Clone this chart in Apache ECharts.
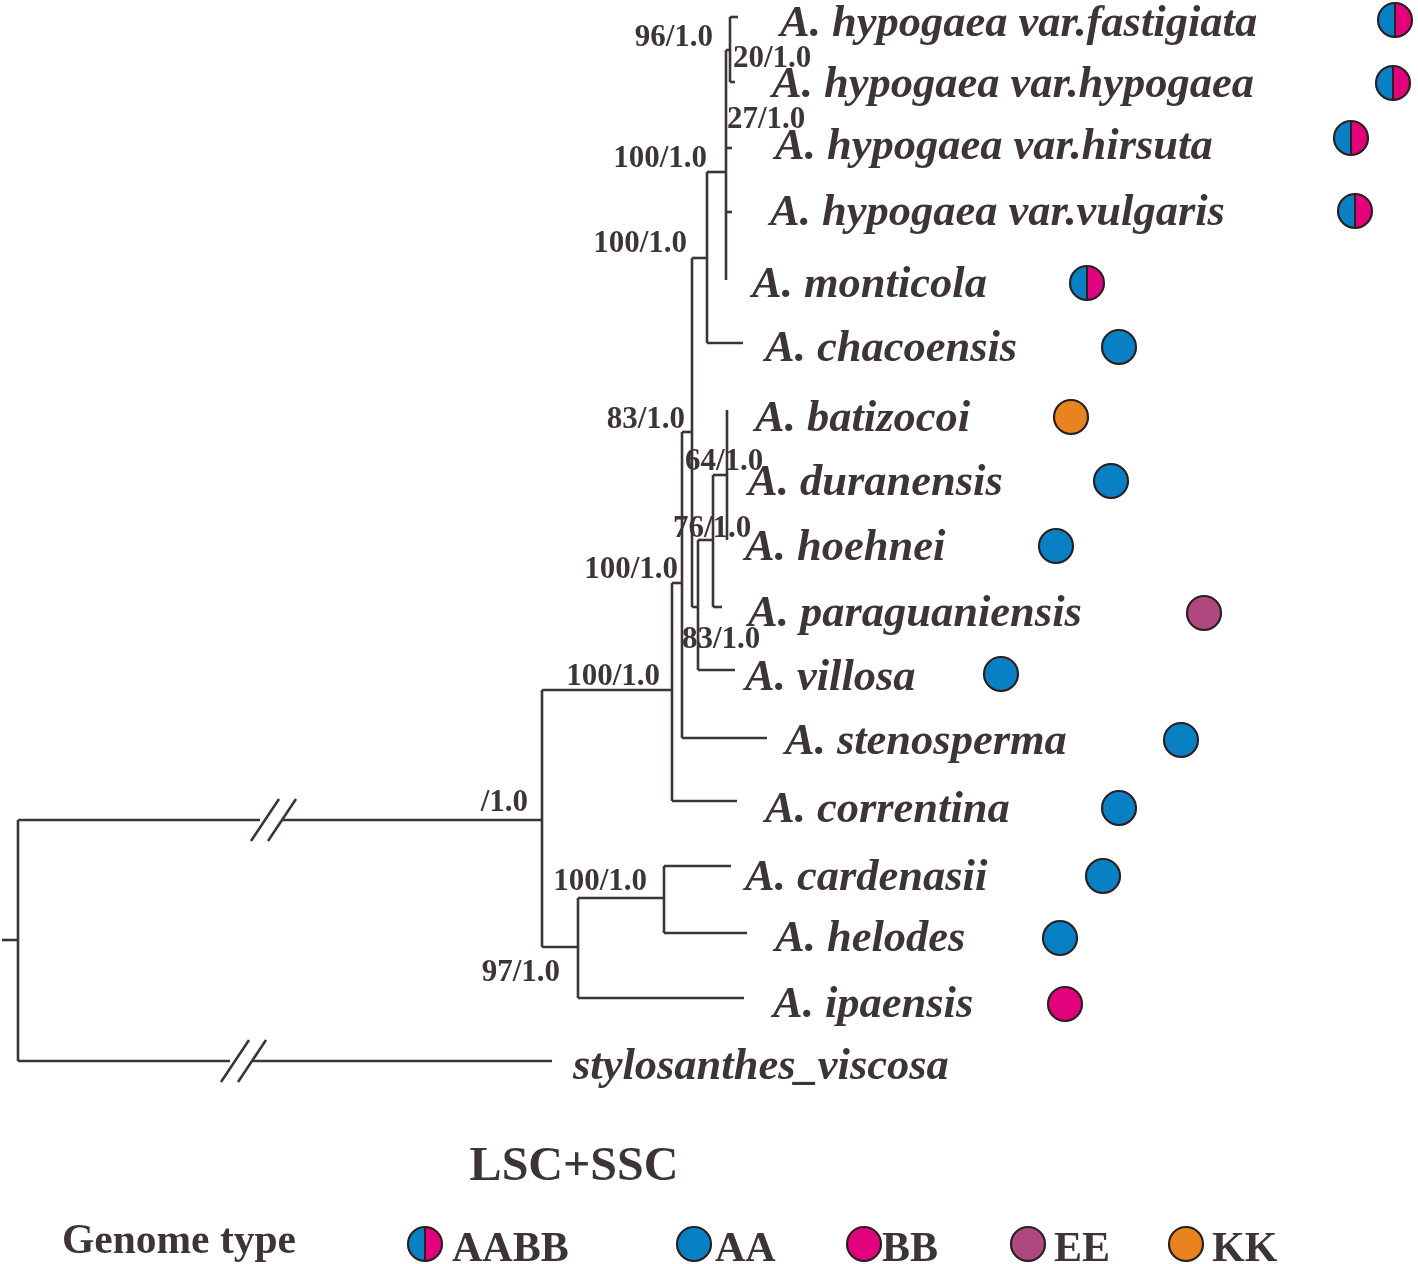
<!DOCTYPE html>
<html><head><meta charset="utf-8">
<script src="https://cdn.jsdelivr.net/npm/echarts@6/dist/echarts.min.js"></script>
<style>html,body{margin:0;padding:0;background:#fff}#c{width:1418px;height:1264px}</style>
</head><body><div id="c"></div>
<script>
// ---------------- DATA ----------------
// Tips (leaves) in drawing order
const taxa = ['A. hypogaea var.fastigiata','A. hypogaea var.hypogaea','A. hypogaea var.hirsuta','A. hypogaea var.vulgaris',
  'A. monticola','A. chacoensis','A. batizocoi','A. duranensis','A. hoehnei','A. paraguaniensis','A. villosa',
  'A. stenosperma','A. correntina','A. cardenasii','A. helodes','A. ipaensis','stylosanthes_viscosa'];
const genomeType = ['AABB','AABB','AABB','AABB','AABB','AA','KK','AA','AA','EE','AA','AA','AA','AA','AA','BB',''];
const tipParent = ['N9','N9','N8','N8','N8','N6','N10','N10','N10','N11','N7','N4','N2','N12','N12','N3','R'];
const tipDepth = [738,735,732,732,726,743,727,727,727,722,735,767,737,731,747,744,552];
const tipRow   = [17,82,148,212,280,343,410,478,540,607,670,738,801,866,933,998,1061];
const tipSupport = ['','20/1.0','27/1.0','','','','','','','','','','','','','',''];

// Internal nodes
const nodeName   = ['R','N1','N2','N4','N5','N6','N8','N9','N7','N11','N10','N3','N12'];
const nodeParent = [null,'R','N1','N2','N4','N5','N6','N8','N5','N7','N11','N1','N3'];
const nodeDepth  = [18,542,672,682,692,707,726,730,698,713,727,578,664];
const nodeRow    = [940,820,690,583,432,258,172,50,607,540,475,947,898];
const nodeSupport = ['','/1.0','100/1.0','100/1.0','83/1.0','100/1.0','100/1.0','96/1.0','83/1.0','76/1.0','64/1.0','97/1.0','100/1.0'];

// Broken (shortened) branches: [child, break position]
const brokenBranch = {N1: 272, stylosanthes_viscosa: 242};

const legendTypes = ['AABB','AA','BB','EE','KK'];
const legendTitle = 'Genome type';
const chartTitle = 'LSC+SSC';

// ---------------- LAYOUT / STYLE ----------------
const INK = '#3d3435', STROKE = '#2a2021';
const colorOf = {AA:'#0a80c4', BB:'#e2007c', EE:'#b0487f', KK:'#e8831f'};
const tipLabelX = [780,772,775,770,752,765,755,748,745,748,745,785,765,745,775,773,573];
const tipLabelY = [24,85,147,213,285,349,419,483,548,614,678,742,810,878,939,1005,1067];
const markerX = [1395,1393,1351,1355,1087,1119,1071,1111,1056,1204,1001,1181,1119,1103,1060,1065,null];
const markerY = [20,83,138,211,283,347,417,481,546,613,674,740,808,876,938,1004,null];
const nodeSupportOff = {N1:[-14,-17,'right'],N2:[-12,-13,'right'],N4:[-4,-13,'right'],N5:[-7,-12,'right'],
  N6:[-20,-14,'right'],N8:[-19,-13,'right'],N9:[-17,-12,'right'],N7:[-16,33,'left'],N11:[-40,-11,'left'],
  N10:[-42,-13,'left'],N3:[-18,26,'right'],N12:[-17,-16,'right']};
const tipSupportOff = {1:[-2,-23,'left'],2:[-5,-28,'left']};
const legendMarkerX = [425,694,864,1028,1186], legendLabelX = [452,715,882,1054,1212];
const legendY = 1244, legendLabelY = 1250;
const MR = 17;

// ---------------- BUILD ----------------
const nodeIdx = {}; nodeName.forEach((n,i)=>nodeIdx[n]=i);
const segs = []; // [x0,y0,x1,y1]
function addBranch(px, x, y, key){
  const b = brokenBranch[key];
  if (b !== undefined){
    segs.push([px,y,b-12,y]); segs.push([b+11,y,x,y]);
    segs.push([b-7-14,y+21,b-7+14,y-21]); segs.push([b+10-14,y+21,b+10+14,y-21]);
  } else if (x > px) segs.push([px,y,x,y]);
}
// vertical spans
const span = nodeName.map((n,i)=>[nodeRow[i],nodeRow[i]]);
nodeName.forEach((n,i)=>{ const p=nodeParent[i]; if(p){ const pi=nodeIdx[p];
  span[pi][0]=Math.min(span[pi][0],nodeRow[i]); span[pi][1]=Math.max(span[pi][1],nodeRow[i]);
  addBranch(nodeDepth[pi], nodeDepth[i], nodeRow[i], n);} });
taxa.forEach((t,i)=>{ const pi=nodeIdx[tipParent[i]];
  span[pi][0]=Math.min(span[pi][0],tipRow[i]); span[pi][1]=Math.max(span[pi][1],tipRow[i]);
  addBranch(nodeDepth[pi], tipDepth[i], tipRow[i], t); });
nodeName.forEach((n,i)=>segs.push([nodeDepth[i],span[i][0],nodeDepth[i],span[i][1]]));
segs.push([2,nodeRow[0],nodeDepth[0],nodeRow[0]]); // root stub

// texts: [x,y,text,size,style,weight,align]
const texts = [];
taxa.forEach((t,i)=>texts.push([tipLabelX[i],tipLabelY[i],t,44.5,'italic','bold','left']));
nodeName.forEach((n,i)=>{ if(nodeSupport[i]){ const o=nodeSupportOff[n];
  texts.push([nodeDepth[i]+o[0],nodeRow[i]+o[1],nodeSupport[i],31,'normal','bold',o[2]]);}});
tipSupport.forEach((s,i)=>{ if(s){ const o=tipSupportOff[i];
  texts.push([tipDepth[i]+o[0],tipRow[i]+o[1],s,31,'normal','bold',o[2]]);}});
texts.push([574,1168,chartTitle,48,'normal','bold','center']);
texts.push([62,1242,legendTitle,41.5,'normal','bold','left']);
legendTypes.forEach((g,i)=>texts.push([legendLabelX[i],legendLabelY,g,42,'normal','bold','left']));

const markers = [];
genomeType.forEach((g,i)=>{ if(g) markers.push([markerX[i],markerY[i],g]); });
legendTypes.forEach((g,i)=>markers.push([legendMarkerX[i],legendY,g]));

const chart = echarts.init(document.getElementById('c'));
chart.setOption({
  animation:false,
  grid:{left:0,right:0,top:0,bottom:0},
  xAxis:{type:'value',min:0,max:1418,show:false},
  yAxis:{type:'value',min:0,max:1264,inverse:true,show:false},
  series:[
    {type:'custom', data:segs, encode:{x:[0,2],y:[1,3]}, clip:false,
     renderItem:(p,api)=>{const a=api.coord([api.value(0),api.value(1)]),b=api.coord([api.value(2),api.value(3)]);
       return {type:'line',shape:{x1:a[0],y1:a[1],x2:b[0],y2:b[1]},style:{stroke:INK,lineWidth:2.6}};}},
    {type:'custom', data:texts.map((t,i)=>[t[0],t[1],i]), encode:{x:0,y:1}, clip:false,
     renderItem:(p,api)=>{const t=texts[api.value(2)];const a=api.coord([t[0],t[1]]);
       return {type:'text',style:{text:t[2],x:a[0],y:a[1],fill:INK,fontSize:t[3],fontStyle:t[4],fontWeight:t[5],
         fontFamily:'"Liberation Serif", "Times New Roman", serif',align:t[6],verticalAlign:'middle'}};}},
    {type:'custom', data:markers.map((m,i)=>[m[0],m[1],i]), encode:{x:0,y:1}, clip:false,
     renderItem:(p,api)=>{const m=markers[api.value(2)];const a=api.coord([m[0],m[1]]);const cx=a[0],cy=a[1];
       const ch=[];
       if(m[2]==='AABB'){
         ch.push({type:'sector',shape:{cx,cy,r:MR,r0:0,startAngle:Math.PI/2,endAngle:Math.PI*1.5,clockwise:true},style:{fill:colorOf.AA}});
         ch.push({type:'sector',shape:{cx,cy,r:MR,r0:0,startAngle:-Math.PI/2,endAngle:Math.PI/2,clockwise:true},style:{fill:colorOf.BB}});
         ch.push({type:'line',shape:{x1:cx,y1:cy-MR,x2:cx,y2:cy+MR},style:{stroke:STROKE,lineWidth:2}});
         ch.push({type:'circle',shape:{cx,cy,r:MR},style:{fill:null,stroke:STROKE,lineWidth:2.2}});
       } else {
         ch.push({type:'circle',shape:{cx,cy,r:MR},style:{fill:colorOf[m[2]],stroke:STROKE,lineWidth:2.2}});
       }
       return {type:'group',children:ch};}}
  ]
});
</script></body></html>
